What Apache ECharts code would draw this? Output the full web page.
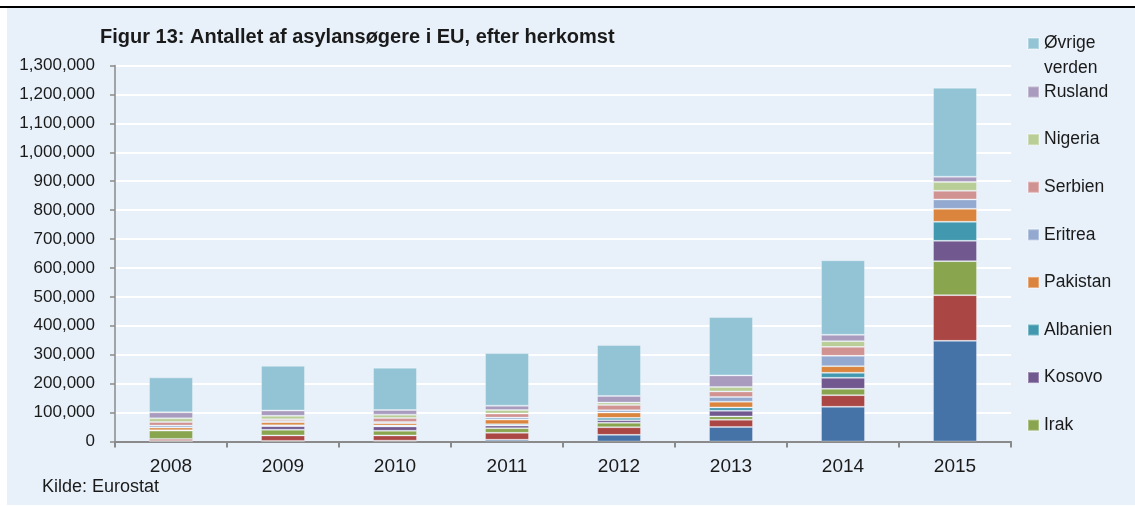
<!DOCTYPE html>
<html>
<head>
<meta charset="utf-8">
<script src="https://cdn.jsdelivr.net/npm/echarts@6/dist/echarts.min.js"></script>
<style>
  html, body { margin: 0; padding: 0; background: #ffffff; }
  #chart { width: 1135px; height: 506px; }
</style>
</head>
<body>
<div id="chart"></div>
<script>
// år
var years = ["2008", "2009", "2010", "2011", "2012", "2013", "2014", "2015"];

// asylansøgere pr. herkomstland
var syrien      = [1500, 2000, 3000, 6000, 23000, 50000, 120000, 348000];
var afghanistan = [7500, 19000, 18000, 24000, 26500, 25300, 40300, 158000];
var irak        = [28800, 19600, 16100, 16000, 15000, 11500, 21900, 117600];
var kosovo      = [0, 12500, 15000, 9200, 9200, 19600, 38000, 70300];
var albanien    = [1000, 3000, 3000, 4500, 8000, 11500, 17300, 65700];
var pakistan    = [9200, 10400, 8000, 16000, 18400, 19600, 23000, 45000];
var eritrea     = [6900, 4800, 4500, 6900, 8000, 16100, 35700, 32300];
var serbien     = [12500, 5800, 13800, 14000, 18400, 19600, 31000, 30000];
var nigeria     = [12700, 11500, 11500, 12000, 8000, 15000, 19600, 30000];
var rusland     = [20700, 18400, 16100, 15000, 23000, 40300, 21900, 18500];
var ovrige      = [121000, 154500, 146300, 182000, 176000, 201700, 258000, 307800];

var seriesNames = ["Syrien", "Afghanistan", "Irak", "Kosovo", "Albanien", "Pakistan",
                   "Eritrea", "Serbien", "Nigeria", "Rusland", "Øvrige verden"];
var seriesData = [syrien, afghanistan, irak, kosovo, albanien, pakistan,
                  eritrea, serbien, nigeria, rusland, ovrige];
var colors = ["#4572A7", "#AA4643", "#89A54E", "#71588F", "#4198AF", "#DB843D",
              "#93A9CF", "#D19392", "#B9CD96", "#A99BBD", "#93C4D5"];

var font = "Liberation Sans, Arial, sans-serif";
var textColor = "#1a1a1a";

var chart = echarts.init(document.getElementById("chart"));

var option = {
  animation: false,
  color: colors,
  graphic: [
    {
      type: "rect",
      z: -10,
      silent: true,
      shape: { x: 7, y: 8, width: 1128, height: 497 },
      style: { fill: "#E8F1FA" },
    },
    {
      type: "rect",
      z: -9,
      silent: true,
      shape: { x: 0, y: 6, width: 1135, height: 2 },
      style: { fill: "#000000" },
    },
    {
      type: "text",
      left: 42,
      top: 478,
      style: { text: "Kilde: Eurostat", font: "18px " + font, fill: textColor },
    },
  ],
  title: {
    text: "Figur 13: Antallet af asylansøgere i EU, efter herkomst",
    left: 100,
    top: 27,
    padding: 0,
    textStyle: { fontFamily: font, fontSize: 20, fontWeight: "bold", color: textColor },
  },
  legend: [
    {
      orient: "vertical",
      left: 1027,
      top: 6,
      padding: 0,
      itemWidth: 11,
      itemHeight: 11,
      icon: "rect",
      data: ["Øvrige verden"],
      // tom første linje, så ikonet flugter med "Øvrige"
      formatter: function () {
        return "\nØvrige\nverden";
      },
      textStyle: { fontFamily: font, fontSize: 17.5, color: textColor, lineHeight: 25 },
    },
    {
      orient: "vertical",
      left: 1027,
      top: 83,
      padding: 0,
      itemWidth: 11,
      itemHeight: 11,
      itemGap: 29.6,
      icon: "rect",
      data: ["Rusland", "Nigeria", "Serbien", "Eritrea", "Pakistan", "Albanien", "Kosovo", "Irak"],
      textStyle: { fontFamily: font, fontSize: 17.5, color: textColor, lineHeight: 17 },
    },
  ],
  grid: { left: 115, right: 124, top: 65.5, bottom: 64.5, containLabel: false },
  xAxis: {
    type: "category",
    data: years,
    axisLine: { lineStyle: { color: "#8a8a8a", width: 2 } },
    axisTick: { show: true, length: 6, lineStyle: { color: "#8a8a8a", width: 2 } },
    axisLabel: { fontFamily: font, fontSize: 19, color: textColor, margin: 16 },
  },
  yAxis: {
    type: "value",
    min: 0,
    max: 1300000,
    interval: 100000,
    axisLine: { show: true, lineStyle: { color: "#8a8a8a", width: 1.5 } },
    axisTick: { show: true, length: 5, lineStyle: { color: "#8a8a8a", width: 1.5 } },
    splitLine: { lineStyle: { color: "#ffffff", width: 2 } },
    axisLabel: {
      fontFamily: font,
      fontSize: 17,
      color: textColor,
      margin: 20,
      formatter: function (v) {
        return String(v).replace(/\B(?=(\d{3})+(?!\d))/g, ",");
      },
    },
  },
  series: seriesNames.map(function (name, i) {
    return {
      name: name,
      type: "bar",
      stack: "total",
      barWidth: 44,
      data: seriesData[i],
      itemStyle: { borderColor: "rgba(255,255,255,0.3)", borderWidth: 1 },
    };
  }),
};

chart.setOption(option);
</script>
</body>
</html>
